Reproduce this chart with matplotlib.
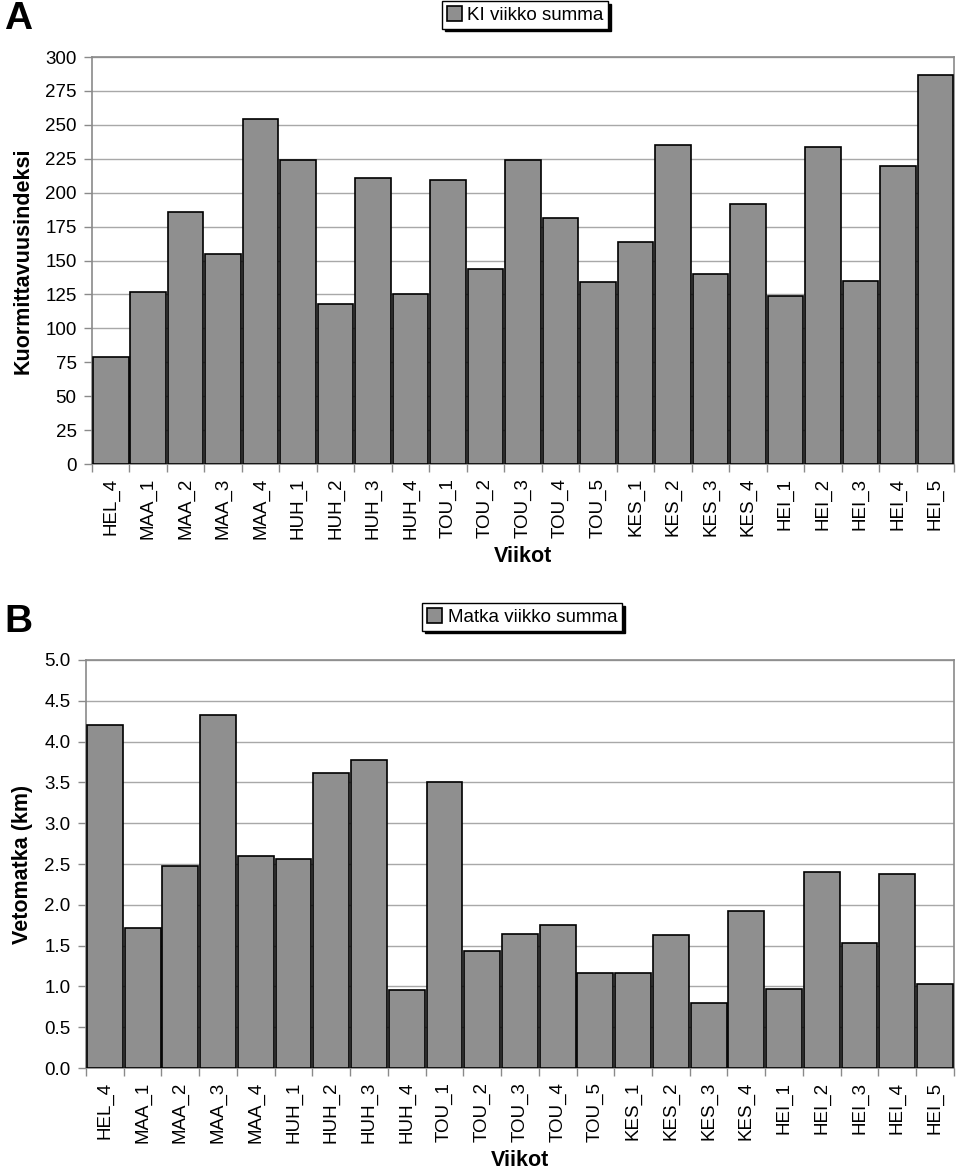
import matplotlib
matplotlib.use("Agg")
import matplotlib.pyplot as plt
import numpy as np

plt.rcParams['font.family'] = ['Liberation Sans', 'DejaVu Sans']

weeks = ["HEL_4", "MAA_1", "MAA_2", "MAA_3", "MAA_4", "HUH_1", "HUH_2", "HUH_3",
         "HUH_4", "TOU_1", "TOU_2", "TOU_3", "TOU_4", "TOU_5", "KES_1", "KES_2",
         "KES_3", "KES_4", "HEI_1", "HEI_2", "HEI_3", "HEI_4", "HEI_5"]
ki_values = [79, 127, 186, 155, 254, 224, 118, 211, 125, 209, 144, 224, 181, 134,
             164, 235, 140, 192, 124, 234, 135, 220, 287]
matka_values = [4.20, 1.72, 2.48, 4.32, 2.60, 2.56, 3.61, 3.78, 0.96, 3.51, 1.43,
                1.64, 1.75, 1.16, 1.17, 1.63, 0.80, 1.93, 0.97, 2.40, 1.53, 2.38, 1.03]
ki_ticks = [0, 25, 50, 75, 100, 125, 150, 175, 200, 225, 250, 275, 300]
matka_ticks = [0.0, 0.5, 1.0, 1.5, 2.0, 2.5, 3.0, 3.5, 4.0, 4.5, 5.0]

BAR = "#8f8f8f"
GRID = "#a8a8a8"
SPINE = "#8a8a8a"

fig = plt.figure(figsize=(9.6, 11.76), dpi=100)
axA = fig.add_axes([0.0958, 0.6054, 0.898, 0.3461])
axB = fig.add_axes([0.0896, 0.0918, 0.904, 0.347])


def style(ax, values, ticks, fmt, ylabel, legend_label, legend_anchor):
    x = np.arange(len(weeks))
    ax.bar(x, values, width=0.95, color=BAR, edgecolor="black", linewidth=1.2,
           label=legend_label, zorder=3)
    ax.set_xlim(-0.5, len(weeks) - 0.5)
    ax.set_ylim(ticks[0], ticks[-1])
    ax.set_yticks(ticks)
    ax.set_yticklabels([fmt.format(t) for t in ticks], fontsize=13.5)
    ax.set_xticks(x)
    ax.set_xticklabels(weeks, rotation=90, fontsize=13.5)
    ax.set_xticks(np.arange(len(weeks) + 1) - 0.5, minor=True)
    ax.tick_params(axis="x", which="major", length=0, pad=10)
    ax.tick_params(axis="x", which="minor", length=6, color=SPINE, width=1)
    ax.tick_params(axis="y", length=6, color=SPINE, width=1, pad=5)
    ax.grid(axis="y", color=GRID, linewidth=1, zorder=0)
    for s in ax.spines.values():
        s.set_color(SPINE)
        s.set_linewidth(1.2)
    ax.set_ylabel(ylabel, fontsize=15.5, fontweight="bold", labelpad=8)
    ax.set_xlabel("Viikot", fontsize=15.5, fontweight="bold", labelpad=5)
    leg = ax.legend(loc="center", bbox_to_anchor=legend_anchor,
                    bbox_transform=fig.transFigure, fontsize=13.5, frameon=True,
                    fancybox=False, shadow={'color': 'black', 'alpha': 1},
                    edgecolor="black", borderpad=0.25, handlelength=0.8,
                    handleheight=0.8, handletextpad=0.3, borderaxespad=0)
    leg.get_frame().set_linewidth(1.0)


style(axA, ki_values, ki_ticks, "{:d}", "Kuormittavuusindeksi", "KI viikko summa",
      (525 / 960, 1 - 15 / 1176))
style(axB, matka_values, matka_ticks, "{:.1f}", "Vetomatka (km)", "Matka viikko summa",
      (522 / 960, 1 - 617 / 1176))

fig.text(4 / 960, 1 - 19 / 1176, "A", fontsize=28, fontweight="bold", va="center", ha="left")
fig.text(4 / 960, 1 - 622 / 1176, "B", fontsize=28, fontweight="bold", va="center", ha="left")

fig.savefig("out.png", dpi=100)
